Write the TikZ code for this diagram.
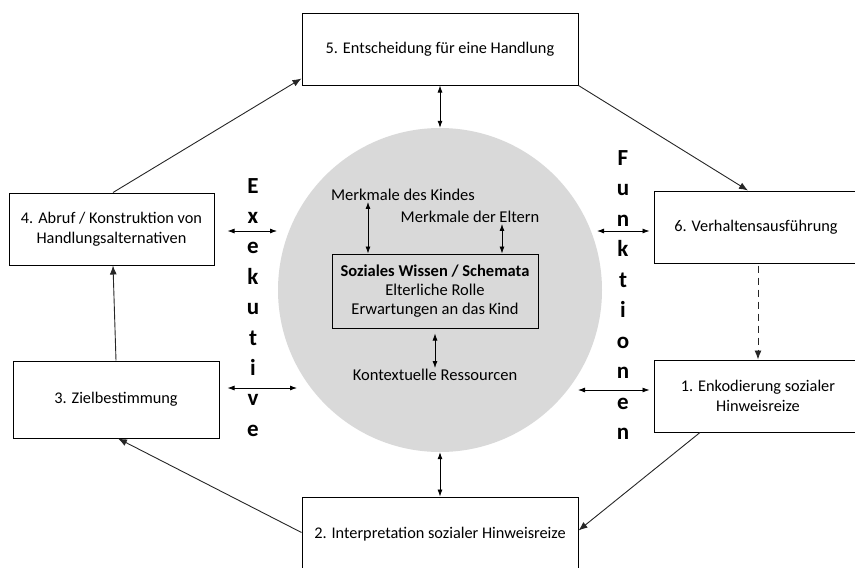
\documentclass[tikz,border=0pt]{standalone}
\usepackage{fontspec}
\setmainfont{Carlito}
\usetikzlibrary{arrows.meta}
\tikzset{
  stage/.style={draw, line width=1pt, align=center, inner sep=0pt, font=\fontsize{16.3}{20}\selectfont},
  link/.style={-{Latex[length=9pt,width=7pt]}, line width=0.9pt, black!85},
  both/.style={{Latex[length=7pt,width=5pt]}-{Latex[length=7pt,width=5pt]}, line width=0.8pt},
  note/.style={font=\fontsize{16.5}{19}\selectfont, inner sep=1pt},
  letter/.style={font=\fontsize{23}{23}\selectfont\bfseries, anchor=base, inner sep=0pt},
}
\begin{document}
\begin{tikzpicture}[x=1pt, y=-1pt]
\useasboundingbox (0,0) rectangle (855,568);
\node[circle, fill=black!15, minimum size=324pt, inner sep=0pt] (kern) at (440,290) {};
\node[stage, minimum width=276pt, minimum height=72pt] (s5) at (440,49) {5. Entscheidung für eine Handlung};
\node[stage, minimum width=208pt, minimum height=72pt] (s6) at (758,227) {\hspace*{-4pt}6. Verhaltensausführung};
\node[stage, minimum width=208pt, minimum height=72pt] (s1) at (758,396) {1. Enkodierung sozialer\\Hinweisreize};
\node[stage, minimum width=276pt, minimum height=75pt] (s2) at (440,534.5) {2. Interpretation sozialer Hinweisreize};
\node[stage, minimum width=206pt, minimum height=77pt] (s3) at (116,399.5) {3. Zielbestimmung};
\node[stage, minimum width=205pt, minimum height=72pt] (s4) at (111.5,229) {4. Abruf / Konstruktion von\\Handlungsalternativen};
\node[stage, minimum width=206pt, minimum height=74pt, font=\fontsize{16.5}{19}\selectfont] (wissen) at (435,291) {\textbf{Soziales Wissen / Schemata}\\Elterliche Rolle\\Erwartungen an das Kind};
\node[note] (kindes) at (403,195) {Merkmale des Kindes};
\node[note] (eltern) at (470,217) {Merkmale der Eltern};
\node[note] (kontext) at (435,375) {Kontextuelle Ressourcen};
\foreach \c [count=\i from 0] in {E,x,e,k,u,t,i,v,e}
  \node[letter] (exe\i) at (253,193+30.4*\i) {\c};
\foreach \c [count=\i from 0] in {F,u,n,k,t,i,o,n,e,n}
  \node[letter] (fun\i) at (623,165+30.5*\i) {\c};
\coordinate (l4) at (277,231);
\coordinate (l3) at (297,388);
\coordinate (r6) at (597,231);
\coordinate (r1) at (578,390);
\draw[both] (s5.south) -- (kern.north);
\draw[both] (s2.north) -- (kern.south);
\draw[both] ([xshift=-35pt]kindes.south) -- ([xshift=-67pt]wissen.north);
\draw[both] ([xshift=32pt]eltern.south) -- ([xshift=67pt]wissen.north);
\draw[both] ([yshift=-5pt]wissen.south) -- (kontext.north);
\draw[both] ([xshift=13pt,yshift=-2pt]s4.east) -- (l4);
\draw[both] ([xshift=8pt,yshift=11.5pt]s3.east) -- (l3);
\draw[both] (r6) -- ([xshift=-4pt,yshift=-4pt]s6.west);
\draw[both] (r1) -- ([xshift=-4pt,yshift=6pt]s1.west);
\draw[link] ([xshift=1.5pt]s4.north) -- ([yshift=7pt]s5.south west);
\draw[link] (s5.south east) -- ([xshift=-10pt]s6.north);
\draw[link, dashed, dash pattern=on 7pt off 5pt] ([yshift=-2pt]s6.south) -- (s1.north);
\draw[link] ([xshift=-58pt]s1.south) -- ([yshift=4pt]s2.east);
\draw[link] ([yshift=2pt]s2.west) -- ([xshift=2pt]s3.south);
\draw[link] (s3.north) -- ([xshift=1.5pt]s4.south);
\end{tikzpicture}
\end{document}
